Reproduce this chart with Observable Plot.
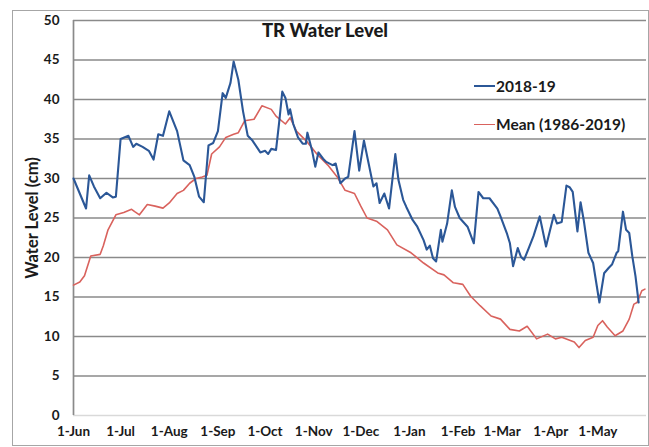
<!DOCTYPE html>
<html><head><meta charset="utf-8">
<script src="https://cdn.jsdelivr.net/npm/d3@7"></script>
<script src="https://cdn.jsdelivr.net/npm/@observablehq/plot@0.6"></script>
<style>
body{margin:0;background:#fff;}
#chart{position:relative;width:649px;height:447px;font-family:Lato,"Open Sans",sans-serif;color:#1a1a1a;overflow:hidden;}
#chart svg{position:absolute;left:0;top:0;}
#frame{position:absolute;left:12px;top:10px;width:635px;height:434px;border:1px solid #a6a6a6;pointer-events:none;}
#title{position:absolute;left:200px;width:250px;top:19px;text-align:center;font-weight:900;font-size:18.5px;}
.leg{position:absolute;left:474px;font-weight:bold;font-size:15.5px;white-space:nowrap;display:flex;align-items:center;}
.leg span.sw{display:inline-block;width:21px;height:0;margin-right:1px;}
#ylab{position:absolute;left:32px;top:218px;transform:translate(-50%,-50%) rotate(-90deg);font-weight:bold;font-size:16.5px;white-space:nowrap;}
</style>
</head><body>
<div id="chart">
  <div id="frame"></div>
  <div id="title">TR Water Level</div>
  <div class="leg" id="leg1" style="top:77px"><span class="sw" style="border-top:2px solid #2b5797"></span>2018-19</div>
  <div class="leg" id="leg2" style="top:115px"><span class="sw" style="border-top:1.5px solid #d9625d"></span>Mean (1986-2019)</div>
  <div id="ylab">Water Level (cm)</div>
</div>
<script>
// Day offsets from 1 June 2018
const seriesNames = ["2018-19", "Mean (1986-2019)"];
const blueDays = [0,8,10,13,17,21,25,27,30,35,38,40,44,48,51,54,57,61,66,70,74,77,80,83,86,89,92,95,97,100,102,105,108,111,114,119,122,124,126,129,131,133,135,137,138,140,143,146,148,149,152,154,156,159,161,165,167,170,173,175,179,182,185,188,191,193,195,198,201,205,207,210,212,216,219,223,225,227,229,231,234,235,238,241,243,246,251,255,258,261,265,270,272,276,278,280,283,285,287,290,293,297,301,306,308,311,314,316,318,321,323,325,328,331,335,338,341,343,346,347,350,352,354,356,358,360];
const blueValues = [30.0,26.2,30.4,29.0,27.5,28.2,27.6,27.7,35.0,35.4,34.0,34.4,34.0,33.5,32.4,35.6,35.4,38.5,36.0,32.3,31.7,30.2,27.7,27.0,34.2,34.5,36.0,40.8,40.2,42.1,44.8,42.5,38.5,35.4,34.8,33.3,33.5,33.1,33.75,33.6,37.1,41.0,40.2,38.1,38.75,36.9,35.2,34.4,34.4,35.8,33.5,31.5,33.3,32.5,32.1,31.7,31.9,29.4,30.0,30.2,36.0,31.0,34.8,31.9,29.0,29.4,26.9,28.1,26.2,33.1,29.8,27.3,26.4,24.75,23.9,22.2,21.0,21.5,19.9,19.5,23.5,22.0,24.3,28.5,26.4,25.0,23.9,21.8,28.3,27.5,27.5,26.2,25.2,23.1,21.8,18.9,21.2,20.1,19.7,21.2,22.7,25.2,21.4,25.4,24.3,24.5,29.1,28.9,28.3,23.3,27.0,24.75,20.6,19.3,14.3,18.0,18.7,19.1,20.6,20.8,25.8,23.5,23.1,20.1,17.6,14.3];
const meanDays = [0,4,7,11,17,19,22,27,32,37,39,42,47,52,57,61,66,70,74,78,82,85,88,93,97,102,105,109,115,120,126,129,135,138,142,149,155,162,168,173,179,183,187,193,200,206,215,223,232,236,242,248,253,259,266,272,278,284,289,295,302,307,311,319,322,326,331,334,337,340,345,350,354,357,359,362,364];
const meanValues = [16.5,16.9,17.7,20.2,20.4,21.5,23.5,25.4,25.7,26.1,25.8,25.4,26.7,26.5,26.25,26.9,28.1,28.5,29.4,30.0,30.2,30.4,33.1,34.0,35.2,35.6,35.8,37.3,37.5,39.2,38.75,37.9,36.9,37.7,36.0,34.6,33.1,31.7,30.2,28.5,28.1,26.5,25.0,24.6,23.5,21.6,20.6,19.3,18.05,17.8,16.8,16.6,15.1,13.9,12.6,12.2,10.9,10.7,11.3,9.7,10.3,9.7,9.9,9.3,8.6,9.5,9.9,11.4,12.0,11.2,10.1,10.7,12.2,14.1,14.3,15.8,16.0];
const yTicks = [0,5,10,15,20,25,30,35,40,45,50];
const monthLabels = ["Jun","Jul","Aug","Sep","Oct","Nov","Dec","Jan","Feb","Mar","Apr","May"];

const start = new Date(Date.UTC(2018, 5, 1));
const end = new Date(Date.UTC(2019, 5, 1));
const toDate = d => d3.utcDay.offset(start, d);
const blue = blueDays.map((d, i) => ({date: toDate(d), value: blueValues[i]}));
const mean = meanDays.map((d, i) => ({date: toDate(d), value: meanValues[i]}));
const monthTicks = monthLabels.map((m, i) => d3.utcMonth.offset(start, i));

const svg = Plot.plot({
  width: 649, height: 447,
  marginLeft: 73, marginRight: 3, marginTop: 20, marginBottom: 32,
  style: {fontFamily: "Lato, 'Open Sans', sans-serif", fontWeight: "bold", fontSize: "13.5px", color: "#1a1a1a", background: "transparent"},
  x: {type: "utc", domain: [start, end]},
  y: {domain: [0, 50]},
  marks: [
    Plot.ruleY(yTicks.filter(v => v > 0), {stroke: "#8a8a8a", strokeWidth: 1.7}),
    Plot.ruleY([0], {stroke: "#d9d9d9", strokeWidth: 1.5}),
    Plot.ruleX([start], {stroke: "#8a8a8a", strokeWidth: 1.7}),
    Plot.lineY(mean, {x: "date", y: "value", stroke: "#d9625d", strokeWidth: 1.6}),
    Plot.lineY(blue, {x: "date", y: "value", stroke: "#2b5797", strokeWidth: 2.1}),
    Plot.axisY({ticks: yTicks, tickSize: 0, tickPadding: 14, label: null}),
    Plot.axisX({ticks: monthTicks, tickSize: 0, tickPadding: 11, label: null,
      tickFormat: (d, i) => "1-" + monthLabels[i]})
  ]
});
document.getElementById("chart").insertBefore(svg, document.getElementById("frame"));
</script>
</body></html>
